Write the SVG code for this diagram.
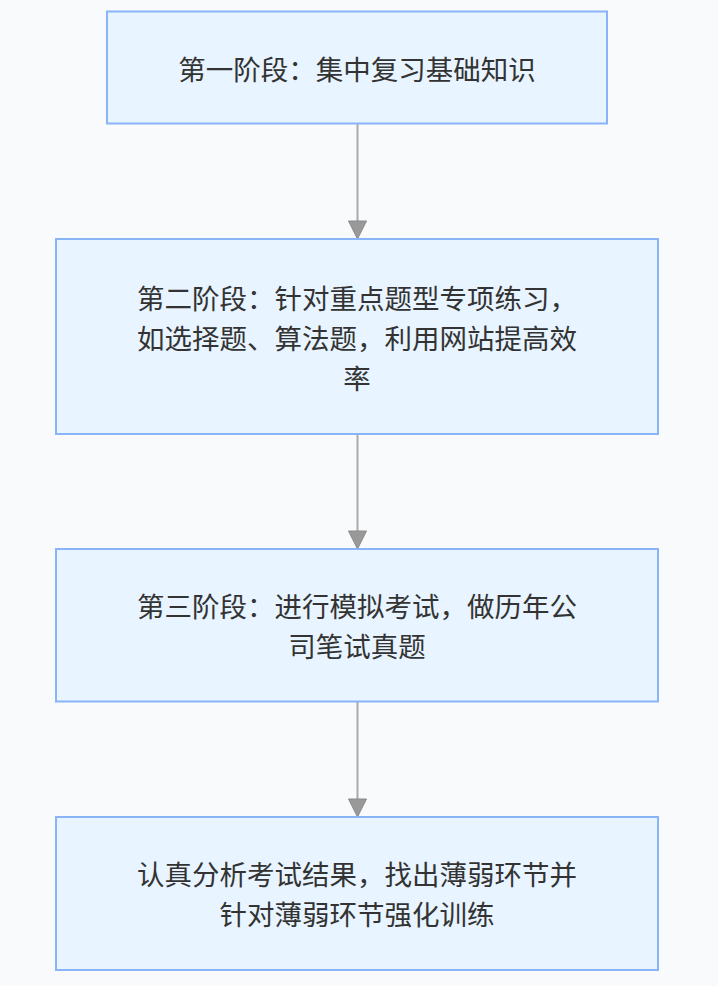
<svg xmlns="http://www.w3.org/2000/svg" width="718" height="986" viewBox="0 0 718 986">
<style>
.bg{fill:#f8fafc}
.node rect{fill:#e8f4ff;stroke:#8ab4f8;stroke-width:2}
.node text{font-family:"Noto Sans CJK SC","Noto Sans",sans-serif;font-size:27.5px;fill:#333333;text-anchor:middle;dominant-baseline:central}
.edge{stroke:#aaaaaa;stroke-width:2;fill:none}
.head{fill:#999999;stroke:#8a8a8a;stroke-width:1}
</style>
<rect class="bg" x="0" y="0" width="718" height="986"/>
<g id="connectors">
<line class="edge" x1="357.5" y1="123.5" x2="357.5" y2="222"/>
<polygon class="head" points="348.5,221 366.5,221 357.5,239"/>
<line class="edge" x1="357.5" y1="434" x2="357.5" y2="532"/>
<polygon class="head" points="348.5,531 366.5,531 357.5,549"/>
<line class="edge" x1="357.5" y1="701.5" x2="357.5" y2="800"/>
<polygon class="head" points="348.5,799 366.5,799 357.5,817"/>
</g>
<g id="node1" class="node">
<rect x="107" y="11.5" width="500" height="112"/>
<text x="357" y="67.5">第一阶段：集中复习基础知识</text>
</g>
<g id="node2" class="node">
<rect x="56" y="239" width="602" height="195"/>
<text x="357" y="297">第二阶段：针对重点题型专项练习，</text>
<text x="357" y="337">如选择题、算法题，利用网站提高效</text>
<text x="357" y="377">率</text>
</g>
<g id="node3" class="node">
<rect x="56" y="549" width="602" height="152.5"/>
<text x="357" y="605">第三阶段：进行模拟考试，做历年公</text>
<text x="357" y="645">司笔试真题</text>
</g>
<g id="node4" class="node">
<rect x="56" y="817" width="602" height="153"/>
<text x="357" y="873">认真分析考试结果，找出薄弱环节并</text>
<text x="357" y="913">针对薄弱环节强化训练</text>
</g>
</svg>
